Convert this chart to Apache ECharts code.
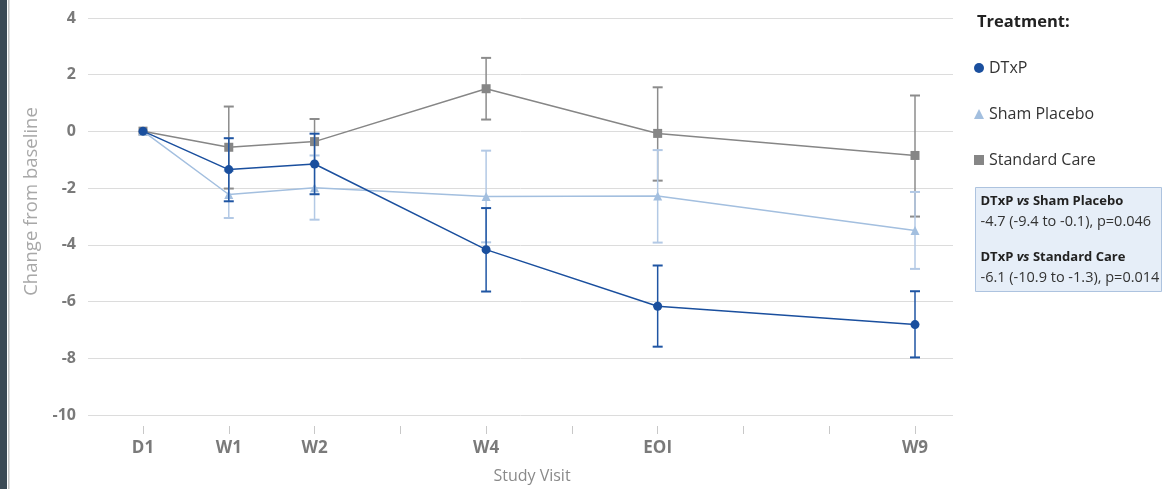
<!DOCTYPE html>
<html>
<head>
<meta charset="utf-8">
<script src="https://cdn.jsdelivr.net/npm/echarts@6/dist/echarts.min.js"></script>
<style>
html,body{margin:0;padding:0;background:#fff;}
#chart{width:1173px;height:489px;}
</style>
</head>
<body>
<div id="chart"></div>
<script>
// ---- data ----
var visitWeeks = [0, 1, 2, 4, 6, 9];
var visitLabels = ['D1', 'W1', 'W2', 'W4', 'EOI', 'W9'];
var yTicks = [-10, -8, -6, -4, -2, 0, 2, 4];

var seriesNames = ['DTxP', 'Sham Placebo', 'Standard Care'];

var dtxpMean = [0, -1.36, -1.16, -4.19, -6.19, -6.84];
var dtxpLow  = [0, -2.48, -2.23, -5.67, -7.62, -8.00];
var dtxpHigh = [0, -0.25, -0.09, -2.72, -4.75, -5.66];

var shamMean = [0, -2.24, -2.00, -2.31, -2.29, -3.51];
var shamLow  = [0, -3.07, -3.13, -3.93, -3.94, -4.87];
var shamHigh = [0, -1.41, -0.86, -0.69, -0.67, -2.15];

var scMean = [0, -0.57, -0.37, 1.50, -0.08, -0.86];
var scLow  = [0, -2.03, -1.17, 0.41, -1.75, -3.02];
var scHigh = [0, 0.87, 0.43, 2.59, 1.55, 1.26];

var statsTitle1 = ['DTxP ', 'vs', ' Sham Placebo'];
var statsText1 = '-4.7 (-9.4 to -0.1), p=0.046';
var statsTitle2 = ['DTxP ', 'vs', ' Standard Care'];
var statsText2 = '-6.1 (-10.9 to -1.3), p=0.014';

// ---- build ----
var colors = { dtxp: '#1a4f9e', sham: '#a3bfdf', sc: '#868686' };
var barColors = { dtxp: '#1f55a3', sham: '#b3c9e5', sc: '#8c8c8c' };

function pts(mean) { return visitWeeks.map(function (w, i) { return [w, mean[i]]; }); }
function bars(low, high) { return visitWeeks.map(function (w, i) { return [w, low[i], high[i]]; }); }

function errRender(color) {
  return function (params, api) {
    var x = api.value(0);
    var lo = api.coord([x, api.value(1)]);
    var hi = api.coord([x, api.value(2)]);
    if (Math.abs(lo[1] - hi[1]) < 1) return null;
    var cw = 5;
    return {
      type: 'group',
      children: [
        { type: 'line', shape: { x1: lo[0], y1: lo[1], x2: hi[0], y2: hi[1] }, style: { stroke: color, lineWidth: 1.5 } },
        { type: 'line', shape: { x1: lo[0] - cw, y1: lo[1], x2: lo[0] + cw, y2: lo[1] }, style: { stroke: color, lineWidth: 2 } },
        { type: 'line', shape: { x1: hi[0] - cw, y1: hi[1], x2: hi[0] + cw, y2: hi[1] }, style: { stroke: color, lineWidth: 2 } }
      ]
    };
  };
}

var labelMap = {};
visitWeeks.forEach(function (w, i) { labelMap[w] = visitLabels[i]; });

var richStats = {
  b: { fontFamily: 'Open Sans', fontWeight: 'bold', fontSize: 13, fill: '#222', lineHeight: 21 },
  bi: { fontFamily: 'Open Sans', fontWeight: 'bold', fontStyle: 'italic', fontSize: 13, fill: '#222', lineHeight: 21 },
  n: { fontFamily: 'Open Sans', fontSize: 14.5, fill: '#333', lineHeight: 21 }
};

var chart = echarts.init(document.getElementById('chart'));
var option = {
  animation: false,
  backgroundColor: '#ffffff',
  title: {
    text: 'Treatment:',
    left: 972, top: 9,
    textStyle: { fontFamily: 'Open Sans', fontWeight: 'bold', fontSize: 16.5, color: '#222' }
  },
  legend: {
    orient: 'vertical',
    left: 969, top: 53,
    itemGap: 26,
    itemWidth: 10, itemHeight: 10,
    textStyle: { fontFamily: 'Open Sans', fontSize: 16, color: '#333', lineHeight: 20 },
    data: [
      { name: seriesNames[0], icon: 'circle', itemStyle: { color: colors.dtxp } },
      { name: seriesNames[1], icon: 'triangle', itemStyle: { color: colors.sham } },
      { name: seriesNames[2], icon: 'rect', itemStyle: { color: colors.sc } }
    ]
  },
  grid: [
    { left: 88, right: 220, top: 18, bottom: 74 },   // gridline frame
    { left: 143, right: 258, top: 18, bottom: 74 }   // data area
  ],
  xAxis: [
    { type: 'value', gridIndex: 0, min: 0, max: 1, show: false },
    {
      type: 'value', gridIndex: 1,
      min: 0, max: 9, interval: 1,
      offset: 12,
      axisLine: { show: true, onZero: false, lineStyle: { color: 'rgba(0,0,0,0)' } },
      splitLine: { show: false },
      axisTick: { show: true, length: 8, lineStyle: { color: '#c8c8c8' } },
      axisLabel: {
        formatter: function (v) { return labelMap[v] || ''; },
        fontFamily: 'Open Sans', fontWeight: 'bold', fontSize: 17, color: '#7a7a7a', margin: 14
      },
      name: 'Study Visit',
      nameLocation: 'middle',
      nameGap: 42,
      nameTextStyle: { fontFamily: 'Open Sans', fontSize: 16, color: '#8a8a8a', padding: [0, 0, 0, 6] }
    }
  ],
  yAxis: [
    {
      type: 'value', gridIndex: 0,
      min: -10, max: 4, interval: 2,
      axisLine: { show: false },
      axisTick: { show: false },
      splitLine: { lineStyle: { color: '#dcdcdc', width: 1 } },
      axisLabel: { fontFamily: 'Open Sans', fontWeight: 'bold', fontSize: 16, color: '#7a7a7a', margin: 12 },
      name: 'Change from baseline',
      nameLocation: 'middle',
      nameGap: 46,
      nameTextStyle: { fontFamily: 'Open Sans', fontSize: 18.5, color: '#a8a8a8', padding: [0, 0, 0, 30] }
    },
    {
      type: 'value', gridIndex: 1,
      min: -10, max: 4, interval: 2,
      show: false,
      splitLine: { show: false }
    }
  ],
  graphic: [
    { type: 'rect', left: 0, top: 0, shape: { width: 7, height: 489 }, style: { fill: '#3b4a55' }, silent: true },
    { type: 'rect', left: 8, top: 0, shape: { width: 1.5, height: 489 }, style: { fill: '#c4c4c4' }, silent: true },
    {
      type: 'group', left: 975, top: 187,
      children: [
        { type: 'rect', shape: { x: 0, y: 0, width: 186, height: 104 }, style: { fill: '#e6eef8', stroke: '#adc3df', lineWidth: 1 } },
        {
          type: 'text', x: 5, y: 3,
          style: {
            text: '{b|' + statsTitle1[0] + '}{bi|' + statsTitle1[1] + '}{b|' + statsTitle1[2] + '}\n{n|' + statsText1 + '}',
            rich: richStats
          }
        },
        {
          type: 'text', x: 5, y: 59,
          style: {
            text: '{b|' + statsTitle2[0] + '}{bi|' + statsTitle2[1] + '}{b|' + statsTitle2[2] + '}\n{n|' + statsText2 + '}',
            rich: richStats
          }
        }
      ]
    }
  ],
  series: [
    {
      name: seriesNames[2], type: 'line', xAxisIndex: 1, yAxisIndex: 1, data: pts(scMean), symbol: 'rect', symbolSize: 9,
      lineStyle: { color: colors.sc, width: 1.5 }, itemStyle: { color: colors.sc }, z: 2
    },
    {
      name: seriesNames[2], type: 'custom', xAxisIndex: 1, yAxisIndex: 1, renderItem: errRender(barColors.sc), itemStyle: { color: colors.sc },
      data: bars(scLow, scHigh), encode: { x: 0, y: [1, 2] }, z: 1, silent: true, clip: false
    },
    {
      name: seriesNames[1], type: 'line', xAxisIndex: 1, yAxisIndex: 1, data: pts(shamMean), symbol: 'triangle', symbolSize: 9,
      lineStyle: { color: colors.sham, width: 1.5 }, itemStyle: { color: colors.sham }, z: 4
    },
    {
      name: seriesNames[1], type: 'custom', xAxisIndex: 1, yAxisIndex: 1, renderItem: errRender(barColors.sham), itemStyle: { color: colors.sham },
      data: bars(shamLow, shamHigh), encode: { x: 0, y: [1, 2] }, z: 3, silent: true, clip: false
    },
    {
      name: seriesNames[0], type: 'line', xAxisIndex: 1, yAxisIndex: 1, data: pts(dtxpMean), symbol: 'circle', symbolSize: 9,
      lineStyle: { color: colors.dtxp, width: 1.5 }, itemStyle: { color: colors.dtxp }, z: 6
    },
    {
      name: seriesNames[0], type: 'custom', xAxisIndex: 1, yAxisIndex: 1, renderItem: errRender(barColors.dtxp), itemStyle: { color: colors.dtxp },
      data: bars(dtxpLow, dtxpHigh), encode: { x: 0, y: [1, 2] }, z: 5, silent: true, clip: false
    }
  ]
};
chart.setOption(option);
</script>
</body>
</html>
